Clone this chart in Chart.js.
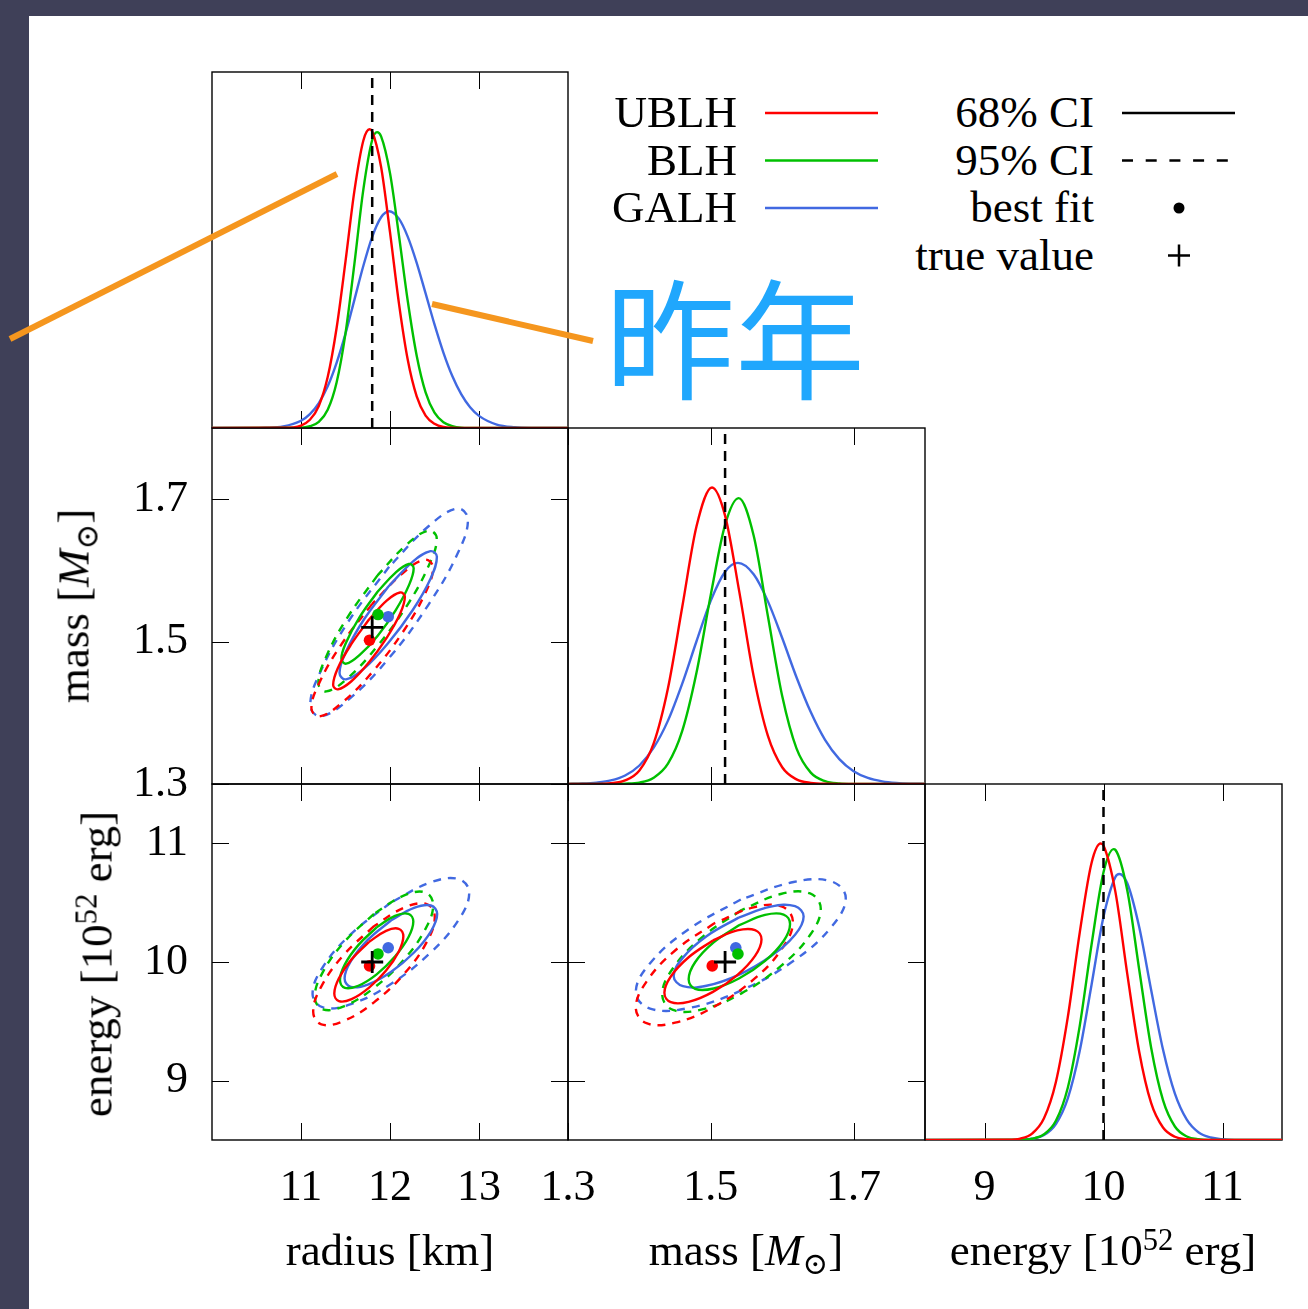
<!DOCTYPE html>
<html lang="en">
<head>
<meta charset="utf-8">
<title>Posterior corner plot</title>
<script src="https://cdn.jsdelivr.net/npm/chart.js@4.4.1/dist/chart.umd.min.js"></script>
<style>
  html, body { margin: 0; padding: 0; }
  body {
    width: 1308px; height: 1309px; position: relative; overflow: hidden;
    background: #3f4058;
    font-family: "Liberation Serif", "DejaVu Serif", serif; color: #000;
  }
  #sheet { position: absolute; left: 29px; top: 16px; right: 0; bottom: 0; background: #fff; }
  canvas { position: absolute; }
  .txt { position: absolute; font-size: 45px; line-height: 45px; white-space: nowrap; }
  .right { text-align: right; width: 300px; }
  .center { transform: translateX(-50%); }
  .rot { transform: translate(-50%, -50%) rotate(-90deg); }
  sub { font-size: 0.68em; vertical-align: -0.28em; line-height: 0; }
  sup { font-size: 0.68em; vertical-align: 0.5em; line-height: 0; }
  #overlay { position: absolute; left: 0; top: 0; pointer-events: none; }
  #note {
    position: absolute; left: 605px; top: 267px;
    font-family: "Noto Sans CJK SC", sans-serif; font-size: 130px; line-height: 130px;
    color: #20a7fd; white-space: nowrap;
  }
</style>
</head>
<body>
<div id="sheet"></div>
<div id="plots"></div>

<div class="txt center" style="left:390px; top:1228px">radius [km]</div>
<div class="txt center" style="left:746px; top:1228px">mass [<i>M</i><sub>⊙</sub>]</div>
<div class="txt center" style="left:1103px; top:1228px">energy [10<sup>52</sup> erg]</div>
<div class="txt rot" style="left:74px; top:606px">mass [<i>M</i><sub>⊙</sub>]</div>
<div class="txt rot" style="left:97px; top:964px">energy [10<sup>52</sup> erg]</div>

<div id="legend"></div>
<svg id="overlay" width="1308" height="1309"></svg>
<div id="note">昨年</div>

<script>
// ---- values ----
const models = ['UBLH', 'BLH', 'GALH'];
const modelColors = ['#ff0000', '#00c000', '#4169e1'];
const ciLabels = ['68% CI', '95% CI', 'best fit', 'true value'];

const radiusRange = [10, 14];
const massRange = [1.3, 1.8];
const energyRange = [8.5, 11.5];

const radiusTicks = [11, 12, 13];
const massTicks = [1.3, 1.5, 1.7];
const energyTicks = [9, 10, 11];
const radiusTickLabels = ['11', '12', '13'];
const massTickLabels = ['1.3', '1.5', '1.7'];
const energyTickLabels = ['9', '10', '11'];

// true value
const trueRadius = 11.8;
const trueMass = 1.52;
const trueEnergy = 10.0;

// best fit, order UBLH, BLH, GALH
const bestRadius = [11.77, 11.865, 11.98];
const bestMass = [1.502, 1.538, 1.535];
const bestEnergy = [9.967, 10.068, 10.12];

// marginal posteriors: [value, relative density]
const radiusUBLH = [[10,0],[10.8,0.0005],[11.0,0.007],[11.1,0.023],[11.2,0.062],[11.3,0.143],[11.4,0.281],[11.5,0.468],[11.6,0.666],[11.7,0.807],[11.77,0.839],[11.8,0.833],[11.9,0.733],[12.0,0.550],[12.1,0.351],[12.2,0.191],[12.3,0.089],[12.4,0.035],[12.5,0.012],[12.6,0.003],[12.8,0],[14,0]];
const radiusBLH = [[10,0],[11.0,0.001],[11.1,0.005],[11.2,0.017],[11.3,0.051],[11.4,0.128],[11.5,0.266],[11.6,0.461],[11.7,0.669],[11.8,0.809],[11.855,0.831],[11.9,0.819],[12.0,0.716],[12.1,0.542],[12.2,0.356],[12.3,0.203],[12.4,0.100],[12.5,0.043],[12.6,0.016],[12.7,0.005],[12.8,0.001],[13.0,0],[14,0]];
const radiusGALH = [[10,0],[10.4,0.0001],[10.6,0.0008],[10.8,0.0045],[11.0,0.0205],[11.1,0.039],[11.2,0.070],[11.3,0.117],[11.4,0.183],[11.5,0.265],[11.6,0.360],[11.7,0.455],[11.8,0.537],[11.9,0.592],[11.99,0.609],[12.1,0.588],[12.2,0.537],[12.3,0.464],[12.4,0.378],[12.5,0.291],[12.6,0.212],[12.7,0.146],[12.8,0.095],[12.9,0.058],[13.0,0.034],[13.2,0.0096],[13.4,0.0022],[13.6,0.0004],[14,0]];

const massUBLH = [[1.30,0],[1.34,0.0003],[1.36,0.002],[1.38,0.010],[1.40,0.038],[1.42,0.114],[1.44,0.269],[1.46,0.497],[1.48,0.724],[1.5017,0.833],[1.52,0.754],[1.54,0.539],[1.56,0.303],[1.58,0.135],[1.60,0.047],[1.62,0.013],[1.64,0.003],[1.66,0.0005],[1.70,0],[1.80,0]];
const massBLH = [[1.30,0],[1.36,0.0002],[1.38,0.0009],[1.40,0.004],[1.42,0.0175],[1.44,0.057],[1.46,0.149],[1.48,0.313],[1.50,0.532],[1.52,0.728],[1.539,0.803],[1.56,0.698],[1.58,0.471],[1.60,0.247],[1.62,0.100],[1.64,0.032],[1.66,0.008],[1.68,0.0015],[1.70,0.0002],[1.80,0]];
const massGALH = [[1.30,0.0004],[1.32,0.0013],[1.34,0.004],[1.36,0.010],[1.38,0.024],[1.40,0.052],[1.42,0.102],[1.44,0.178],[1.46,0.282],[1.48,0.401],[1.50,0.515],[1.52,0.596],[1.538,0.621],[1.56,0.589],[1.58,0.513],[1.60,0.410],[1.62,0.300],[1.64,0.202],[1.66,0.124],[1.68,0.070],[1.70,0.036],[1.72,0.017],[1.74,0.0075],[1.76,0.003],[1.78,0.001],[1.80,0.0004]];

const energyUBLH = [[8.5,0],[9.2,0.0008],[9.3,0.004],[9.4,0.018],[9.5,0.061],[9.6,0.163],[9.7,0.345],[9.8,0.582],[9.9,0.779],[9.976,0.833],[10.0,0.827],[10.1,0.697],[10.2,0.466],[10.3,0.248],[10.4,0.104],[10.5,0.035],[10.6,0.009],[10.7,0.002],[10.8,0.0003],[11.5,0]];
const energyBLH = [[8.5,0],[9.3,0.0007],[9.4,0.0036],[9.5,0.016],[9.6,0.054],[9.7,0.147],[9.8,0.320],[9.9,0.550],[10.0,0.752],[10.085,0.817],[10.1,0.815],[10.2,0.701],[10.3,0.479],[10.4,0.260],[10.5,0.112],[10.6,0.038],[10.7,0.010],[10.8,0.002],[10.9,0.0004],[11.5,0]];
const energyGALH = [[8.5,0],[9.2,0.0001],[9.3,0.0008],[9.4,0.0037],[9.5,0.014],[9.6,0.045],[9.7,0.117],[9.8,0.250],[9.9,0.437],[10.0,0.627],[10.1,0.739],[10.133,0.747],[10.2,0.721],[10.3,0.598],[10.4,0.422],[10.5,0.254],[10.6,0.130],[10.7,0.057],[10.8,0.021],[10.9,0.007],[11.0,0.002],[11.1,0.0004],[11.5,0]];

// credible contours: [x, y] around the loop
// mass vs radius
const mrUBLH68 = [[11.764,1.531],[11.563,1.496],[11.415,1.463],[11.361,1.439],[11.415,1.433],[11.563,1.444],[11.764,1.471],[11.966,1.506],[12.113,1.539],[12.167,1.563],[12.113,1.569],[11.966,1.558],[11.764,1.531]];
const mrBLH68 = [[11.86,1.570],[11.657,1.534],[11.508,1.499],[11.454,1.476],[11.508,1.469],[11.657,1.481],[11.86,1.508],[12.063,1.544],[12.212,1.579],[12.266,1.603],[12.212,1.609],[12.063,1.597],[11.86,1.570]];
const mrGALH68 = [[11.98,1.577],[11.707,1.531],[11.506,1.486],[11.433,1.456],[11.506,1.447],[11.707,1.462],[11.98,1.498],[12.254,1.544],[12.454,1.588],[12.527,1.619],[12.454,1.627],[12.254,1.612],[11.98,1.577]];
const mrUBLH95 = [[11.80,1.553],[11.459,1.497],[11.209,1.443],[11.117,1.406],[11.209,1.395],[11.459,1.414],[11.80,1.457],[12.142,1.513],[12.392,1.567],[12.483,1.604],[12.392,1.615],[12.142,1.596],[11.80,1.553]];
const mrBLH95 = [[11.86,1.593],[11.528,1.535],[11.284,1.479],[11.195,1.441],[11.284,1.430],[11.528,1.449],[11.86,1.494],[12.193,1.551],[12.436,1.607],[12.525,1.645],[12.436,1.656],[12.193,1.637],[11.86,1.593]];
const mrGALH95 = [[11.99,1.605],[11.547,1.531],[11.223,1.459],[11.104,1.410],[11.223,1.395],[11.547,1.420],[11.99,1.477],[12.433,1.552],[12.757,1.623],[12.876,1.672],[12.757,1.687],[12.433,1.662],[11.99,1.605]];
// energy vs radius
const erUBLH68 = [[11.762,10.168],[11.568,10.022],[11.426,9.863],[11.374,9.734],[11.426,9.670],[11.568,9.687],[11.762,9.782],[11.956,9.928],[12.098,10.087],[12.150,10.216],[12.098,10.280],[11.956,10.263],[11.762,10.168]];
const erBLH68 = [[11.85,10.292],[11.644,10.142],[11.493,9.980],[11.438,9.848],[11.493,9.782],[11.644,9.800],[11.85,9.896],[12.056,10.046],[12.207,10.208],[12.262,10.341],[12.207,10.406],[12.056,10.389],[11.85,10.292]];
const erGALH68 = [[12.01,10.350],[11.75,10.186],[11.56,10.007],[11.49,9.862],[11.56,9.790],[11.75,9.810],[12.01,9.916],[12.27,10.080],[12.46,10.259],[12.53,10.404],[12.46,10.476],[12.27,10.456],[12.01,10.350]];
const erUBLH95 = [[11.82,10.302],[11.479,10.059],[11.229,9.795],[11.137,9.581],[11.229,9.474],[11.479,9.503],[11.82,9.660],[12.162,9.903],[12.412,10.167],[12.503,10.381],[12.412,10.488],[12.162,10.459],[11.82,10.302]];
const erBLH95 = [[11.82,10.406],[11.488,10.170],[11.244,9.913],[11.155,9.705],[11.244,9.601],[11.488,9.629],[11.82,9.782],[12.153,10.018],[12.396,10.275],[12.485,10.483],[12.396,10.587],[12.153,10.559],[11.82,10.406]];
const erGALH95 = [[12.01,10.501],[11.57,10.241],[11.248,9.960],[11.13,9.731],[11.248,9.617],[11.57,9.647],[12.01,9.815],[12.45,10.075],[12.772,10.356],[12.89,10.585],[12.772,10.699],[12.45,10.669],[12.01,10.501]];
// energy vs mass
const emUBLH68 = [[1.503,10.182],[1.469,10.040],[1.444,9.878],[1.435,9.740],[1.444,9.661],[1.469,9.664],[1.503,9.748],[1.537,9.890],[1.562,10.052],[1.571,10.190],[1.562,10.269],[1.537,10.266],[1.503,10.182]];
const emBLH68 = [[1.540,10.311],[1.504,10.165],[1.478,9.998],[1.469,9.854],[1.478,9.774],[1.504,9.777],[1.540,9.863],[1.576,10.009],[1.602,10.177],[1.611,10.320],[1.602,10.400],[1.576,10.397],[1.540,10.311]];
const emGALH68 = [[1.539,10.374],[1.494,10.217],[1.461,10.037],[1.448,9.883],[1.461,9.796],[1.494,9.800],[1.539,9.892],[1.584,10.049],[1.618,10.229],[1.630,10.383],[1.618,10.470],[1.584,10.467],[1.539,10.374]];
const emUBLH95 = [[1.505,10.326],[1.450,10.097],[1.410,9.835],[1.395,9.611],[1.410,9.484],[1.450,9.489],[1.505,9.624],[1.560,9.853],[1.600,10.115],[1.615,10.339],[1.600,10.466],[1.560,10.461],[1.505,10.326]];
const emBLH95 = [[1.543,10.438],[1.488,10.209],[1.447,9.947],[1.432,9.723],[1.447,9.596],[1.488,9.601],[1.543,9.736],[1.598,9.965],[1.639,10.227],[1.654,10.451],[1.639,10.578],[1.598,10.573],[1.543,10.438]];
const emGALH95 = [[1.542,10.527],[1.469,10.276],[1.415,9.990],[1.395,9.745],[1.415,9.607],[1.469,9.612],[1.542,9.759],[1.616,10.010],[1.669,10.296],[1.689,10.541],[1.669,10.679],[1.616,10.674],[1.542,10.527]];

// ---- layout ----
const colEdges = [212, 568, 925, 1282];
const rowEdges = [72, 428, 784, 1140];
const PAD = 60; // room for tick-label overhang so chart areas stay on the grid
const TICK_LEN = 17;
const LINE_W = 2.4;
const tickFont = { family: 'Liberation Serif', size: 44 };

const radiusAxis = { range: radiusRange, ticks: radiusTicks, labels: radiusTickLabels };
const massAxis = { range: massRange, ticks: massTicks, labels: massTickLabels };
const energyAxis = { range: energyRange, ticks: energyTicks, labels: energyTickLabels };
const densityAxis = { range: [0, 1], ticks: [], labels: [] };

const toXY = arr => arr.map(([x, y]) => ({ x, y }));

// box around each panel plus inward tick marks on every side
const framePlugin = {
  id: 'frame',
  beforeDatasetsDraw(chart, args, opts) {
    const { ctx, chartArea: a } = chart;
    const xs = chart.scales.x, ys = chart.scales.y;
    ctx.save();
    ctx.strokeStyle = '#000';
    ctx.lineWidth = 1;
    ctx.beginPath();
    xs.ticks.forEach(t => {
      const p = Math.round(xs.getPixelForValue(t.value)) + 0.5;
      ctx.moveTo(p, a.top); ctx.lineTo(p, a.top + TICK_LEN);
      ctx.moveTo(p, a.bottom); ctx.lineTo(p, a.bottom - TICK_LEN);
    });
    if (opts.yMarks) {
      ys.ticks.forEach(t => {
        const p = Math.round(ys.getPixelForValue(t.value)) + 0.5;
        ctx.moveTo(a.left, p); ctx.lineTo(a.left + TICK_LEN, p);
        ctx.moveTo(a.right, p); ctx.lineTo(a.right - TICK_LEN, p);
      });
    }
    ctx.stroke();
    ctx.lineWidth = 1.4;
    ctx.strokeRect(a.left, a.top, a.right - a.left, a.bottom - a.top);
    ctx.restore();
  }
};

function axis(spec, showLabels, dir, size) {
  return {
    type: 'linear',
    position: dir === 'x' ? 'bottom' : 'left',
    min: spec.range[0],
    max: spec.range[1],
    display: showLabels,
    grid: { display: false, drawTicks: false },
    border: { display: false },
    ticks: {
      font: tickFont, color: '#000',
      padding: dir === 'x' ? 22 : 24,
      autoSkip: false, maxRotation: 0,
      callback: (v, i) => spec.labels[i]
    },
    afterBuildTicks: s => { s.ticks = spec.ticks.map(value => ({ value })); },
    afterFit: s => { if (dir === 'x') s.height = size; else s.width = size; }
  };
}

function panel({ col, row, x, y, datasets, xLabels, yLabels, yMarks }) {
  const left = colEdges[col], top = rowEdges[row];
  const w = colEdges[col + 1] - left, h = rowEdges[row + 1] - top;
  const yAxisW = yLabels ? 120 : 0;
  const xAxisH = xLabels ? 90 : 0;
  const canvas = document.createElement('canvas');
  canvas.width = w + 2 * PAD + yAxisW;
  canvas.height = h + 2 * PAD + xAxisH;
  canvas.style.left = (left - PAD - yAxisW) + 'px';
  canvas.style.top = (top - PAD) + 'px';
  document.getElementById('plots').appendChild(canvas);

  new Chart(canvas, {
    type: 'scatter',
    data: { datasets },
    options: {
      responsive: false,
      animation: false,
      events: [],
      layout: { padding: PAD },
      plugins: {
        legend: { display: false },
        tooltip: { enabled: false },
        frame: { yMarks }
      },
      scales: {
        x: axis(x, xLabels, 'x', xAxisH),
        y: axis(y, yLabels, 'y', yAxisW)
      }
    },
    plugins: [framePlugin]
  });
}

function marginal(curves, trueVal) {
  return [
    { data: [{ x: trueVal, y: 0 }, { x: trueVal, y: 1 }], showLine: true, borderColor: '#000',
      borderWidth: 2.5, borderDash: [10, 7], pointRadius: 0, order: 0 },
    ...curves.map((c, i) => ({
      data: toXY(c), showLine: true, borderColor: modelColors[i], borderWidth: LINE_W,
      pointRadius: 0, cubicInterpolationMode: 'monotone', order: 1 + i
    }))
  ];
}

function joint(c68, c95, bx, by, tx, ty) {
  return [
    { data: [{ x: tx, y: ty }], pointStyle: 'cross', pointRadius: 11, borderColor: '#000', borderWidth: 2.8, order: 0 },
    ...models.map((m, i) => ({
      data: [{ x: bx[i], y: by[i] }], pointStyle: 'circle', pointRadius: 5.8,
      backgroundColor: modelColors[i], borderWidth: 0, order: 1
    })),
    ...c68.map((c, i) => ({
      data: toXY(c), showLine: true, borderColor: modelColors[i], borderWidth: LINE_W,
      pointRadius: 0, tension: 0.4, order: 2
    })),
    ...c95.map((c, i) => ({
      data: toXY(c), showLine: true, borderColor: modelColors[i], borderWidth: LINE_W,
      borderDash: [8, 7], pointRadius: 0, tension: 0.4, order: 3
    }))
  ];
}

panel({ col: 0, row: 0, x: radiusAxis, y: densityAxis,
  datasets: marginal([radiusUBLH, radiusBLH, radiusGALH], trueRadius) });
panel({ col: 1, row: 1, x: massAxis, y: densityAxis,
  datasets: marginal([massUBLH, massBLH, massGALH], trueMass) });
panel({ col: 2, row: 2, x: energyAxis, y: densityAxis, xLabels: true,
  datasets: marginal([energyUBLH, energyBLH, energyGALH], trueEnergy) });

panel({ col: 0, row: 1, x: radiusAxis, y: massAxis, yLabels: true, yMarks: true,
  datasets: joint([mrUBLH68, mrBLH68, mrGALH68], [mrUBLH95, mrBLH95, mrGALH95],
    bestRadius, bestMass, trueRadius, trueMass) });
panel({ col: 0, row: 2, x: radiusAxis, y: energyAxis, xLabels: true, yLabels: true, yMarks: true,
  datasets: joint([erUBLH68, erBLH68, erGALH68], [erUBLH95, erBLH95, erGALH95],
    bestRadius, bestEnergy, trueRadius, trueEnergy) });
panel({ col: 1, row: 2, x: massAxis, y: energyAxis, xLabels: true, yMarks: true,
  datasets: joint([emUBLH68, emBLH68, emGALH68], [emUBLH95, emBLH95, emGALH95],
    bestMass, bestEnergy, trueMass, trueEnergy) });

// ---- legend ----
const legend = document.getElementById('legend');
const svg = document.getElementById('overlay');
const NS = 'http://www.w3.org/2000/svg';
const rowBase = [128, 175.5, 223, 270.5];

function svgEl(tag, attrs) {
  const el = document.createElementNS(NS, tag);
  Object.entries(attrs).forEach(([k, v]) => el.setAttribute(k, v));
  svg.appendChild(el);
  return el;
}
function label(text, rightEdge, baseline) {
  const d = document.createElement('div');
  d.className = 'txt right';
  d.style.left = (rightEdge - 300) + 'px';
  d.style.top = (baseline - 37.7) + 'px';
  d.textContent = text;
  legend.appendChild(d);
}

models.forEach((m, i) => {
  label(m, 737, rowBase[i]);
  const yy = rowBase[i] - 15;
  svgEl('line', { x1: 765, y1: yy, x2: 878, y2: yy, stroke: modelColors[i], 'stroke-width': 2.5 });
});
ciLabels.forEach((t, i) => label(t, 1094, rowBase[i]));
svgEl('line', { x1: 1122, y1: rowBase[0] - 15, x2: 1235, y2: rowBase[0] - 15, stroke: '#000', 'stroke-width': 2.5 });
svgEl('line', { x1: 1122, y1: rowBase[1] - 15, x2: 1228, y2: rowBase[1] - 15, stroke: '#000', 'stroke-width': 2.5, 'stroke-dasharray': '11 12.7' });
svgEl('circle', { cx: 1179, cy: rowBase[2] - 15, r: 5.5, fill: '#000' });
svgEl('path', { d: `M1168 ${rowBase[3] - 15}h22M1179 ${rowBase[3] - 26}v22`, stroke: '#000', 'stroke-width': 2.5 });

// ---- annotation strokes ----
svgEl('line', { x1: 10, y1: 339, x2: 337, y2: 174, stroke: '#f5961e', 'stroke-width': 6 });
svgEl('line', { x1: 432, y1: 304, x2: 593, y2: 341, stroke: '#f5961e', 'stroke-width': 6 });
</script>
</body>
</html>
